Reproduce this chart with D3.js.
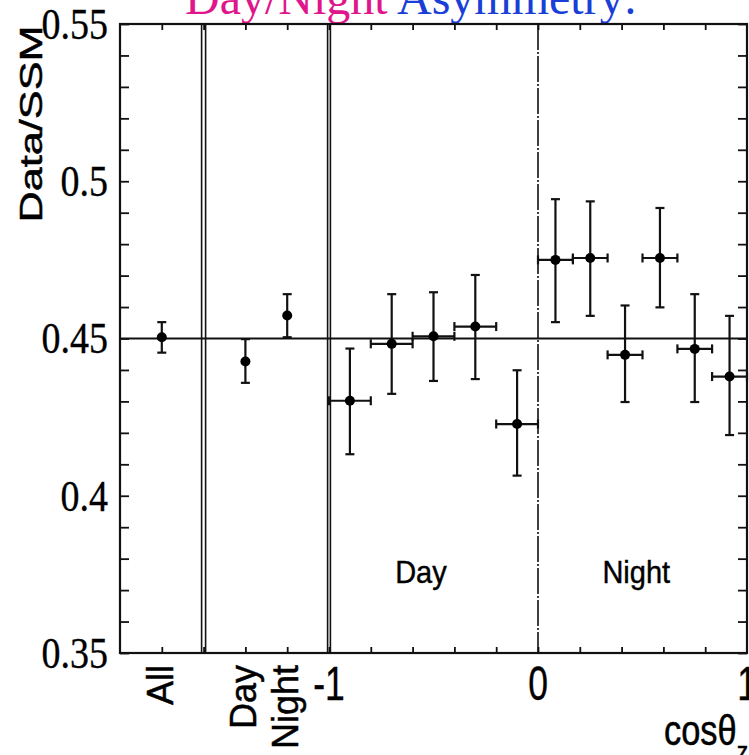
<!DOCTYPE html>
<html><head><meta charset="utf-8">
<script src="https://cdn.jsdelivr.net/npm/d3@7"></script>
<style>html,body{margin:0;padding:0;background:#fff;overflow:hidden}</style>
</head><body>
<svg id="chart" width="749" height="755"></svg>
<script>
// ---------- data ----------
const categories = ["All", "Day", "Night"];
const categoryCoord = [-1.8, -1.4, -1.2];            // axis coordinate of each category tick
const catValues = [0.4504, 0.4427, 0.4573];
const catUpper  = [0.4552, 0.4498, 0.4641];
const catLower  = [0.4455, 0.4359, 0.4504];

const dayBinLow  = [-1.0, -0.8, -0.6, -0.4, -0.2];
const dayBinHigh = [-0.8, -0.6, -0.4, -0.2, 0.0];
const dayValues  = [0.4302, 0.4483, 0.4507, 0.4538, 0.4228];
const dayUpper   = [0.4468, 0.4641, 0.4647, 0.4702, 0.4399];
const dayLower   = [0.4132, 0.4324, 0.4365, 0.4371, 0.4064];

const nightBinLow  = [0.0, 0.167, 0.333, 0.5, 0.667, 0.833];
const nightBinHigh = [0.167, 0.333, 0.5, 0.667, 0.833, 1.0];
const nightValues  = [0.4750, 0.4756, 0.4448, 0.4756, 0.4467, 0.4379];
const nightUpper   = [0.4943, 0.4936, 0.4605, 0.4915, 0.4641, 0.4572];
const nightLower   = [0.4552, 0.4572, 0.4298, 0.4599, 0.4298, 0.4193];

const yTickLabels = [0.35, 0.4, 0.45, 0.5, 0.55];
const xTickLabels = [-1, 0, 1];
const referenceValue = 0.45;
const separators = [-1.6, -1.0];

// ---------- layout ----------
const L = 120, R = 747, T = 24, B = 653;
const svg = d3.select("#chart");
const x = d3.scaleLinear().domain([-2, 1]).range([L, R]);
const y = d3.scaleLinear().domain([0.35, 0.55]).range([B, T]);
const ink = "#000";
const sans = "'Liberation Sans',Arial,sans-serif";
const serif = "'Liberation Serif','Times New Roman',serif";

// title (mostly cut off at top)
const title = svg.append("text")
  .attr("x", 185).attr("y", 14)
  .attr("font-family", serif)
  .attr("font-size", 48);
title.append("tspan").attr("fill", "#e0168c").text("Day/Night ");
title.append("tspan").attr("fill", "#1a3fd8").text("Asymmetry:");

// ticks
const yMinor = d3.range(35, 56).map(d => d / 100);
const xMinor = d3.range(-9, 5).map(d => d / 5);
function clean(g){ g.select(".domain").remove(); g.selectAll("line").attr("stroke", "#111").attr("stroke-width", 1.8); }
svg.append("g").attr("transform", `translate(${L},0)`)
  .call(d3.axisLeft(y).tickValues(yMinor).tickSize(-9).tickFormat("")).call(clean);
svg.append("g").attr("transform", `translate(${R},0)`)
  .call(d3.axisRight(y).tickValues(yMinor).tickSize(-9).tickFormat("")).call(clean);
svg.append("g").attr("transform", `translate(0,${B})`)
  .call(d3.axisBottom(x).tickValues(xMinor).tickSize(-6).tickFormat("")).call(clean);
svg.append("g").attr("transform", `translate(0,${T})`)
  .call(d3.axisTop(x).tickValues(xMinor).tickSize(-6).tickFormat("")).call(clean);

// y tick labels
const yl = svg.append("g").attr("transform", `translate(${L},0)`)
  .call(d3.axisLeft(y).tickValues(yTickLabels).tickSize(0).tickPadding(12).tickFormat(d3.format("")));
yl.select(".domain").remove();
yl.selectAll("text").attr("font-family", serif)
  .attr("font-size", 38).attr("fill", ink).attr("stroke", ink).attr("stroke-width", 0.3)
  .attr("dy", null)
  .attr("transform", "scale(1,1.15)")
  .attr("y", 0);
yl.selectAll(".tick").each(function(d){
  d3.select(this).select("text").attr("transform", "scale(1,1.15)").attr("dy", "0.33em");
});

// frame
svg.append("rect").attr("x", L).attr("y", T).attr("width", R - L).attr("height", B - T)
  .attr("fill", "none").attr("stroke", "#111").attr("stroke-width", 2.2);

// separators (double lines)
separators.forEach((s, i) => {
  const off = i === 0 ? 2 : 1.4;
  [-off, off].forEach(o => svg.append("line")
    .attr("x1", x(s) + o).attr("x2", x(s) + o).attr("y1", T).attr("y2", B)
    .attr("stroke", "#111").attr("stroke-width", 1.6));
});

// dash-dot at cos = 0
svg.append("line").attr("x1", x(0)).attr("x2", x(0)).attr("y1", T).attr("y2", B)
  .attr("stroke", "#111").attr("stroke-width", 1.6).attr("stroke-dasharray", "26,2,2,2");

// reference line
svg.append("line").attr("x1", L).attr("x2", R).attr("y1", y(referenceValue)).attr("y2", y(referenceValue))
  .attr("stroke", "#111").attr("stroke-width", 2.2);

// points
const pts = [];
categories.forEach((c, i) => pts.push({cx: categoryCoord[i], v: catValues[i], hi: catUpper[i], lo: catLower[i]}));
dayValues.forEach((v, i) => pts.push({cx: (dayBinLow[i] + dayBinHigh[i]) / 2, x0: dayBinLow[i], x1: dayBinHigh[i], v, hi: dayUpper[i], lo: dayLower[i]}));
nightValues.forEach((v, i) => pts.push({cx: (nightBinLow[i] + nightBinHigh[i]) / 2, x0: nightBinLow[i], x1: nightBinHigh[i], v, hi: nightUpper[i], lo: nightLower[i]}));

const cap = 4.5;
const gp = svg.append("g").attr("stroke", "#111").attr("stroke-width", 2.2);
pts.forEach(p => {
  const px = x(p.cx), py = y(p.v);
  gp.append("line").attr("x1", px).attr("x2", px).attr("y1", y(p.hi)).attr("y2", y(p.lo));
  gp.append("line").attr("x1", px - cap).attr("x2", px + cap).attr("y1", y(p.hi)).attr("y2", y(p.hi));
  gp.append("line").attr("x1", px - cap).attr("x2", px + cap).attr("y1", y(p.lo)).attr("y2", y(p.lo));
  if (p.x0 !== undefined) {
    gp.append("line").attr("x1", x(p.x0)).attr("x2", x(p.x1)).attr("y1", py).attr("y2", py);
    gp.append("line").attr("x1", x(p.x0)).attr("x2", x(p.x0)).attr("y1", py - cap).attr("y2", py + cap);
    gp.append("line").attr("x1", x(p.x1)).attr("x2", x(p.x1)).attr("y1", py - cap).attr("y2", py + cap);
  }
  svg.append("circle").attr("cx", px).attr("cy", py).attr("r", 5).attr("fill", "#000");
});

// in-plot labels
[["Day", -0.56], ["Night", 0.47]].forEach(([t, c]) => svg.append("text")
  .attr("transform", `translate(${x(c)},583) scale(1,1.1)`).attr("text-anchor", "middle")
  .attr("font-family", sans).attr("font-size", 29).attr("fill", ink)
  .attr("stroke", ink).attr("stroke-width", 0.4).text(t));

// rotated category labels
categories.forEach((c, i) => svg.append("text")
  .attr("transform", `translate(${x(categoryCoord[i]) + 11},665) rotate(-90)`)
  .attr("text-anchor", "end").attr("font-family", sans).attr("font-size", 36)
  .attr("fill", ink).attr("stroke", ink).attr("stroke-width", 0.5).text(c));

// cos axis tick labels
xTickLabels.forEach(v => svg.append("text")
  .attr("transform", `translate(${x(v)},700) scale(0.74,1)`)
  .attr("text-anchor", "middle").attr("font-family", sans).attr("font-size", 48)
  .attr("fill", ink).attr("stroke", ink).attr("stroke-width", 0.4).text(String(v)));

// axis title cosθz
const ct = svg.append("text").attr("transform", "translate(664,745) scale(0.82,1)")
  .attr("font-family", sans).attr("font-size", 42).attr("fill", ink)
  .attr("stroke", ink).attr("stroke-width", 0.5);
ct.append("tspan").text("cosθ");
ct.append("tspan").attr("font-size", 28).attr("dy", 16).text("z");

// y axis title
svg.append("text").attr("transform", "translate(42,124) rotate(-90) scale(1.35,1)")
  .attr("text-anchor", "middle").attr("font-family", sans).attr("font-size", 32)
  .attr("fill", ink).attr("stroke", ink).attr("stroke-width", 0.5).text("Data/SSM");
</script>
</body></html>
